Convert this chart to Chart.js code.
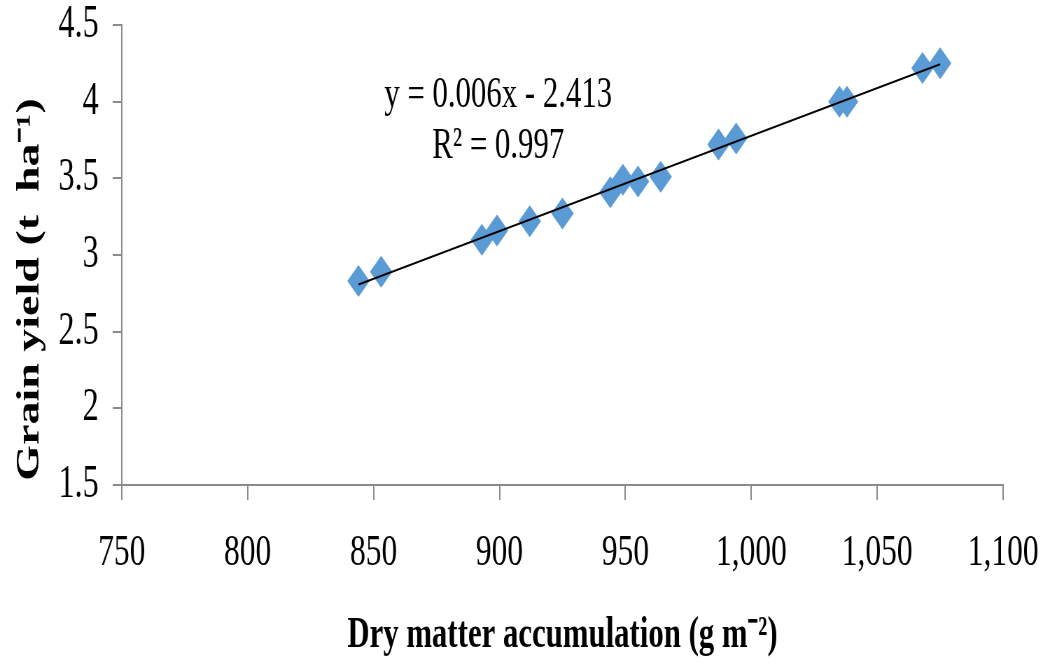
<!DOCTYPE html>
<html>
<head>
<meta charset="utf-8">
<script src="https://cdn.jsdelivr.net/npm/chart.js@4.4.1/dist/chart.umd.min.js"></script>
<style>
  html, body { margin: 0; padding: 0; background: #fff; overflow: hidden; }
  #wrap { width: 1490px; height: 666px; transform: scaleX(0.7); transform-origin: 0 0; }
</style>
</head>
<body>
<div id="wrap"><canvas id="chart" width="1490" height="666"></canvas></div>
<script>
// dry matter accumulation (g m-2) vs grain yield (t ha-1)
const dryMatter = [844, 853, 893, 899, 912, 925, 944, 949, 955, 964, 987, 994, 1035, 1038, 1068, 1075];
const grainYield = [2.83, 2.89, 3.10, 3.16, 3.22, 3.27, 3.41, 3.49, 3.48, 3.51, 3.72, 3.76, 4.00, 4.00, 4.22, 4.25];
const xTicks = [750, 800, 850, 900, 950, 1000, 1050, 1100];
const yTicks = [1.5, 2, 2.5, 3, 3.5, 4, 4.5];
const eqText = "y = 0.006x - 2.413";
const r2Text = "R\u00B2 = 0.997";

// least squares line through the points
const n = dryMatter.length;
const mx = dryMatter.reduce((a, b) => a + b, 0) / n;
const my = grainYield.reduce((a, b) => a + b, 0) / n;
let sxy = 0, sxx = 0;
for (let i = 0; i < n; i++) {
  sxy += (dryMatter[i] - mx) * (grainYield[i] - my);
  sxx += (dryMatter[i] - mx) ** 2;
}
const slope = sxy / sxx;
const icpt = my - slope * mx;
const xMin = Math.min(...dryMatter), xMax = Math.max(...dryMatter);
const trend = [{ x: xMin, y: icpt + slope * xMin }, { x: xMax, y: icpt + slope * xMax }];

const axisGray = "#8a8a8a";
const serif = "'Liberation Serif', 'Times New Roman', serif";

const equationLabel = {
  id: "equationLabel",
  afterDatasetsDraw(chart) {
    const { ctx, scales } = chart;
    const cx = scales.x.getPixelForValue(899.5);
    ctx.save();
    ctx.fillStyle = "#000";
    ctx.font = "44px " + serif;
    ctx.textAlign = "center";
    ctx.textBaseline = "middle";
    ctx.fillText(eqText, cx, scales.y.getPixelForValue(4.04));
    ctx.fillText(r2Text, cx, scales.y.getPixelForValue(3.71));
    ctx.restore();
  }
};

new Chart(document.getElementById("chart"), {
  type: "scatter",
  data: {
    datasets: [
      {
        type: "line",
        data: trend,
        borderColor: "#000",
        borderWidth: 2,
        pointRadius: 0,
        fill: false,
        order: 0
      },
      {
        data: dryMatter.map((x, i) => ({ x: x, y: grainYield[i] })),
        pointStyle: "rectRot",
        pointRadius: 16,
        pointHoverRadius: 16,
        backgroundColor: "#5b9bd5",
        borderWidth: 0,
        order: 1
      }
    ]
  },
  options: {
    responsive: false,
    animation: false,
    layout: { padding: { top: 25, right: 57, left: 0, bottom: 0 } },
    plugins: { legend: { display: false }, tooltip: { enabled: false } },
    scales: {
      x: {
        type: "linear",
        min: 750,
        max: 1100,
        afterBuildTicks: s => { s.ticks = xTicks.map(v => ({ value: v })); },
        afterFit: s => { s.height = 181; s.paddingLeft = 0; s.paddingRight = 0; },
        ticks: { color: "#000", font: { family: serif, size: 45 }, padding: 26, maxRotation: 0 },
        grid: { drawOnChartArea: false, drawTicks: true, tickLength: 15, color: axisGray, lineWidth: 2 },
        border: { display: true, color: axisGray, width: 2 },
        title: {
          display: true,
          text: "Dry matter accumulation (g m\u207B\u00B2)",
          color: "#000",
          font: { family: serif, size: 44, weight: "bold" },
          padding: { top: 0, bottom: 4 }
        }
      },
      y: {
        type: "linear",
        min: 1.5,
        max: 4.5,
        afterBuildTicks: s => { s.ticks = yTicks.map(v => ({ value: v })); },
        afterFit: s => { s.width = 174; s.paddingTop = 0; s.paddingBottom = 0; },
        ticks: { color: "#000", font: { family: serif, size: 46 }, padding: 20, callback: v => String(v) },
        grid: { drawOnChartArea: false, drawTicks: true, tickLength: 13, color: axisGray, lineWidth: 2 },
        border: { display: true, color: axisGray, width: 2 },
        title: {
          display: true,
          text: "Grain yield (t  ha\u207B\u00B9)      ",
          color: "#000",
          font: { family: serif, size: 46, weight: "bold" },
          padding: { top: 16, bottom: 0 }
        }
      }
    }
  },
  plugins: [equationLabel]
});
</script>
</body>
</html>
